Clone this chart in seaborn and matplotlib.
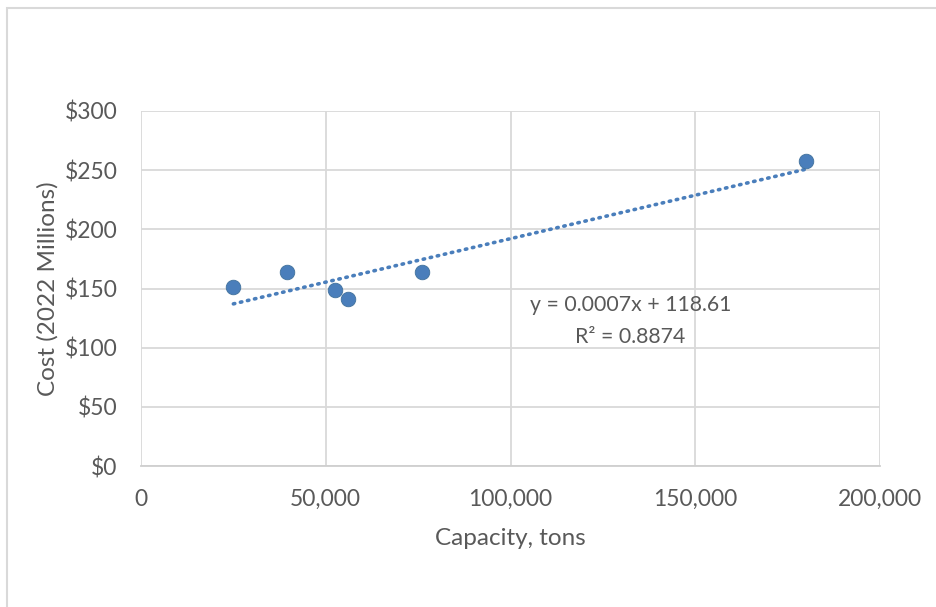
import matplotlib
matplotlib.use("Agg")
import matplotlib.pyplot as plt
import matplotlib.ticker as mticker
import seaborn as sns
import pandas as pd

# facility capacity vs cost
capacity_tons = [25000, 39500, 52500, 56000, 76000, 180000]
cost_millions = [151, 164, 149, 141, 164, 258]
x_ticks = [0, 50000, 100000, 150000, 200000]
y_ticks = [0, 50, 100, 150, 200, 250, 300]
eq_text = "y = 0.0007x + 118.61"
r2_text = "R² = 0.8874"

df = pd.DataFrame({"Capacity": capacity_tons, "Cost": cost_millions})

sns.set_style("white")
plt.rcParams['font.family'] = ['Lato', 'DejaVu Sans']
txt = "#595959"
grid_c = "#d9d9d9"
blue = "#4a7ebb"

fig = plt.figure(figsize=(9.36, 6.07), dpi=100)
ax = fig.add_axes([141/936, 1-466/607, 739/936, 355/607])

# outer chart border
fig.patches.append(plt.Rectangle((7/936, -0.05), 1.1, 1 - 8/607 + 0.05,
                                 transform=fig.transFigure, fill=False,
                                 edgecolor=grid_c, linewidth=1.5))

sns.regplot(data=df, x="Capacity", y="Cost", ax=ax, ci=None,
            scatter_kws=dict(s=110, color=blue, edgecolor="#41719c",
                             linewidths=0.6, alpha=1, zorder=4),
            line_kws=dict(color=blue, linewidth=2.6, linestyle=(0, (0.4, 1.6)),
                          dash_capstyle="round", zorder=3))

ax.set_xlim(0, 200000)
ax.set_ylim(0, 300)
ax.set_xticks(x_ticks)
ax.set_yticks(y_ticks)
ax.xaxis.set_major_formatter(mticker.FuncFormatter(lambda v, p: f"{int(v):,}"))
ax.yaxis.set_major_formatter(mticker.FuncFormatter(lambda v, p: f"${int(v)}"))
ax.grid(True, color=grid_c, linewidth=1.3)
ax.set_axisbelow(True)
for s in ["top", "right", "left"]:
    ax.spines[s].set_visible(False)
ax.spines["bottom"].set_color("#cfcfcf")
ax.spines["bottom"].set_linewidth(1.3)
ax.tick_params(axis="both", length=0, labelsize=16.5, colors=txt)
ax.tick_params(axis="x", pad=16.5)
ax.tick_params(axis="y", pad=17)

ax.set_xlabel("Capacity, tons", fontsize=17.5, color=txt, labelpad=13)
ax.set_ylabel("Cost (2022 Millions)", fontsize=17.5, color=txt, labelpad=4)

ax.text(0.662, 0.4535, eq_text, transform=ax.transAxes, ha="center", va="center",
        fontsize=15.3, color=txt)
ax.text(0.662, 0.363, r2_text, transform=ax.transAxes, ha="center", va="center",
        fontsize=15.3, color=txt)

fig.savefig("out.png", dpi=100)
